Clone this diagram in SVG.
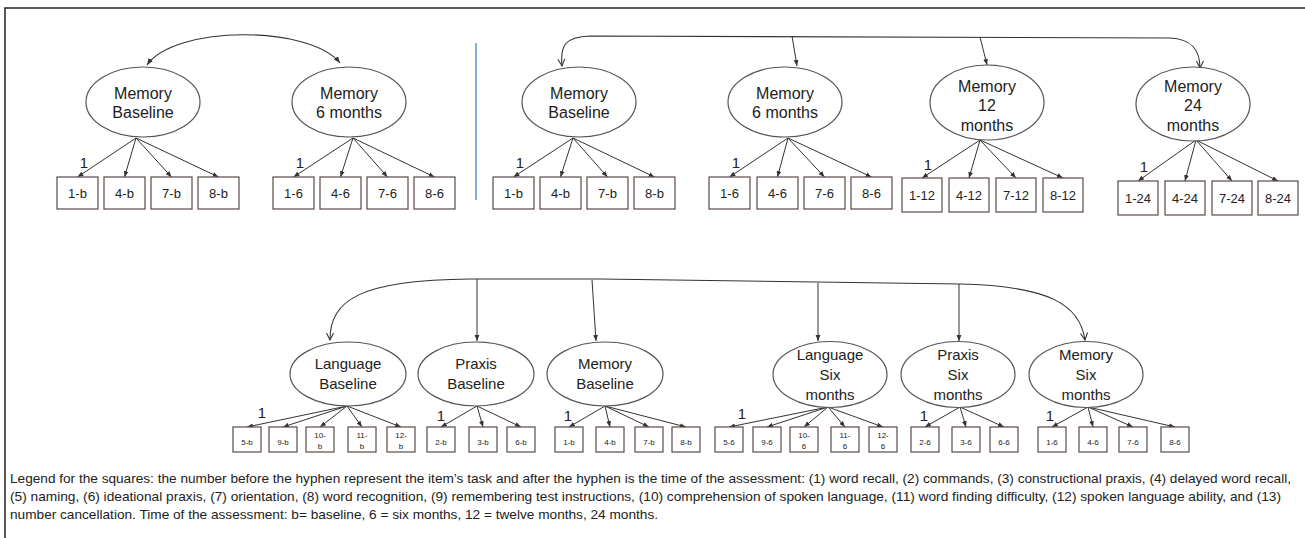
<svg xmlns="http://www.w3.org/2000/svg" width="1305" height="538" viewBox="0 0 1305 538">
  <style>
    text { font-family: "Liberation Sans", Arial, sans-serif; fill: #222; }
    .lat { fill: #fff; stroke: #555; stroke-width: 1.2; }
    .lt { font-size: 16px; text-anchor: middle; }
    .lb { font-size: 15px; text-anchor: middle; }
    .box { fill: #fff; stroke: #5a4a46; stroke-width: 1.2; }
    .bt { font-size: 13px; text-anchor: middle; }
    .bs { font-size: 8px; text-anchor: middle; }
    .one { font-size: 15px; text-anchor: middle; }
    .edge { fill: none; stroke: #333; stroke-width: 1; marker-end: url(#ah); }
    .curve { fill: none; stroke: #333; stroke-width: 1.1; }
    .leg { font-size: 13px; }
  </style>
  <defs>
    <marker id="ah" viewBox="0 0 10 10" refX="10" refY="5" markerWidth="6" markerHeight="6" orient="auto-start-reverse">
      <path d="M0,1 L10,5 L0,9 z" fill="#333"/>
    </marker>
    <marker id="av" viewBox="0 0 10 10" refX="9" refY="5" markerWidth="8" markerHeight="8" orient="auto-start-reverse">
      <path d="M1,1 L9,5 L1,9" fill="none" stroke="#333" stroke-width="1.2"/>
    </marker>
  </defs>

  <rect width="1305" height="538" fill="#fff"/>
  <!-- outer frame -->
  <rect x="5" y="8" width="1310" height="545" fill="none" stroke="#222" stroke-width="1.5"/>
  <!-- divider between the two upper models -->
  <line x1="476" y1="43" x2="476" y2="200" stroke="#5b8fd6" stroke-width="1.5"/>

  <!-- connectors -->
  <g id="connectors">
    <!-- upper-left model -->
    <path class="curve" d="M147,65 C175,25 310,25 340,63" marker-start="url(#ah)" marker-end="url(#ah)"/>
    <path class="edge" d="M136,138 L77.5,177"/>
    <path class="edge" d="M136,138 L124.5,177"/>
    <path class="edge" d="M136,138 L171.5,177"/>
    <path class="edge" d="M136,138 L218.5,177"/>
    <path class="edge" d="M353,138 L293.5,177"/>
    <path class="edge" d="M353,138 L340.5,177"/>
    <path class="edge" d="M353,138 L387.5,177"/>
    <path class="edge" d="M353,138 L434.5,177"/>

    <!-- upper-right model -->
    <path class="curve" d="M562,66 C560,45 565,37 590,36 L1170,38 C1192,39 1200,50 1200,68" marker-start="url(#av)" marker-end="url(#av)"/>
    <path class="edge" d="M792,36 L797,66"/>
    <path class="edge" d="M980,37 L987,65"/>
    <path class="edge" d="M573,138 L513.5,177"/>
    <path class="edge" d="M573,138 L560.5,177"/>
    <path class="edge" d="M573,138 L607.5,177"/>
    <path class="edge" d="M573,138 L654.5,177"/>
    <path class="edge" d="M788,138 L729.5,177"/>
    <path class="edge" d="M788,138 L777.5,177"/>
    <path class="edge" d="M788,138 L824.5,177"/>
    <path class="edge" d="M788,138 L871.5,177"/>
    <path class="edge" d="M980,140 L922,178"/>
    <path class="edge" d="M980,140 L969,178"/>
    <path class="edge" d="M980,140 L1016,178"/>
    <path class="edge" d="M980,140 L1063,178"/>
    <path class="edge" d="M1196,140 L1138,181"/>
    <path class="edge" d="M1196,140 L1185,181"/>
    <path class="edge" d="M1196,140 L1232,181"/>
    <path class="edge" d="M1196,140 L1278,181"/>

    <!-- lower model -->
    <path class="curve" d="M330,340 C330,300 360,280 470,279 L600,279 L960,284 C1050,286 1080,305 1085,340" marker-start="url(#av)" marker-end="url(#av)"/>
    <path class="edge" d="M477,279 L477,341"/>
    <path class="edge" d="M592,280 L596,341"/>
    <path class="edge" d="M818,283 L818,341"/>
    <path class="edge" d="M959,284 L959,341"/>
    <path class="edge" d="M347,406 L247,427"/>
    <path class="edge" d="M347,406 L283,427"/>
    <path class="edge" d="M347,406 L320,427"/>
    <path class="edge" d="M347,406 L362,427"/>
    <path class="edge" d="M347,406 L401,427"/>
    <path class="edge" d="M477,406 L441,427"/>
    <path class="edge" d="M477,406 L483,427"/>
    <path class="edge" d="M477,406 L521,427"/>
    <path class="edge" d="M605,406 L569,427"/>
    <path class="edge" d="M605,406 L610,427"/>
    <path class="edge" d="M605,406 L649,427"/>
    <path class="edge" d="M605,406 L686,427"/>
    <path class="edge" d="M828,407 L729,427"/>
    <path class="edge" d="M828,407 L767,427"/>
    <path class="edge" d="M828,407 L804,427"/>
    <path class="edge" d="M828,407 L845,427"/>
    <path class="edge" d="M828,407 L883,427"/>
    <path class="edge" d="M960,407 L925,427"/>
    <path class="edge" d="M960,407 L966,427"/>
    <path class="edge" d="M960,407 L1004,427"/>
    <path class="edge" d="M1088,407 L1052,427"/>
    <path class="edge" d="M1088,407 L1093,427"/>
    <path class="edge" d="M1088,407 L1133,427"/>
    <path class="edge" d="M1088,407 L1175,427"/>
  </g>

  <!-- fixed loadings -->
  <g id="loadings">
    <text class="one" x="84" y="168">1</text>
    <text class="one" x="300" y="168">1</text>
    <text class="one" x="520" y="168">1</text>
    <text class="one" x="736" y="168">1</text>
    <text class="one" x="928" y="170">1</text>
    <text class="one" x="1144" y="172">1</text>
    <text class="one" x="262" y="418">1</text>
    <text class="one" x="441" y="421">1</text>
    <text class="one" x="568" y="421">1</text>
    <text class="one" x="742" y="419">1</text>
    <text class="one" x="924" y="421">1</text>
    <text class="one" x="1050" y="421">1</text>
  </g>

  <!-- upper-left model -->
  <g id="tl-mem-b">
    <ellipse class="lat" cx="143" cy="102" rx="57" ry="35"/>
    <text class="lt" x="143" y="99">Memory</text>
    <text class="lt" x="143" y="118">Baseline</text>
  </g>
  <g id="tl-mem-6">
    <ellipse class="lat" cx="349" cy="102" rx="57" ry="35"/>
    <text class="lt" x="349" y="99">Memory</text>
    <text class="lt" x="349" y="118">6 months</text>
  </g>
  <g id="tl-items">
    <rect class="box" x="57" y="177" width="41" height="32"/><text class="bt" x="77.5" y="198">1-b</text>
    <rect class="box" x="104" y="177" width="41" height="32"/><text class="bt" x="124.5" y="198">4-b</text>
    <rect class="box" x="151" y="177" width="41" height="32"/><text class="bt" x="171.5" y="198">7-b</text>
    <rect class="box" x="198" y="177" width="41" height="32"/><text class="bt" x="218.5" y="198">8-b</text>
    <rect class="box" x="273" y="177" width="41" height="32"/><text class="bt" x="293.5" y="198">1-6</text>
    <rect class="box" x="320" y="177" width="41" height="32"/><text class="bt" x="340.5" y="198">4-6</text>
    <rect class="box" x="367" y="177" width="41" height="32"/><text class="bt" x="387.5" y="198">7-6</text>
    <rect class="box" x="414" y="177" width="41" height="32"/><text class="bt" x="434.5" y="198">8-6</text>
  </g>

  <!-- upper-right model -->
  <g id="tr-mem-b">
    <ellipse class="lat" cx="579" cy="102" rx="57" ry="35"/>
    <text class="lt" x="579" y="99">Memory</text>
    <text class="lt" x="579" y="118">Baseline</text>
  </g>
  <g id="tr-mem-6">
    <ellipse class="lat" cx="785" cy="102" rx="57" ry="35"/>
    <text class="lt" x="785" y="99">Memory</text>
    <text class="lt" x="785" y="118">6 months</text>
  </g>
  <g id="tr-mem-12">
    <ellipse class="lat" cx="987" cy="102.5" rx="57" ry="37.5"/>
    <text class="lt" x="987" y="92">Memory</text>
    <text class="lt" x="987" y="111">12</text>
    <text class="lt" x="987" y="131">months</text>
  </g>
  <g id="tr-mem-24">
    <ellipse class="lat" cx="1193" cy="104" rx="57" ry="37"/>
    <text class="lt" x="1193" y="92">Memory</text>
    <text class="lt" x="1193" y="111">24</text>
    <text class="lt" x="1193" y="131">months</text>
  </g>
  <g id="tr-items">
    <rect class="box" x="493" y="177" width="41" height="32"/><text class="bt" x="513.5" y="198">1-b</text>
    <rect class="box" x="540" y="177" width="41" height="32"/><text class="bt" x="560.5" y="198">4-b</text>
    <rect class="box" x="587" y="177" width="41" height="32"/><text class="bt" x="607.5" y="198">7-b</text>
    <rect class="box" x="634" y="177" width="41" height="32"/><text class="bt" x="654.5" y="198">8-b</text>
    <rect class="box" x="709" y="177" width="41" height="32"/><text class="bt" x="729.5" y="198">1-6</text>
    <rect class="box" x="757" y="177" width="41" height="32"/><text class="bt" x="777.5" y="198">4-6</text>
    <rect class="box" x="804" y="177" width="41" height="32"/><text class="bt" x="824.5" y="198">7-6</text>
    <rect class="box" x="851" y="177" width="41" height="32"/><text class="bt" x="871.5" y="198">8-6</text>
    <rect class="box" x="902" y="178" width="40" height="34"/><text class="bt" x="922" y="200">1-12</text>
    <rect class="box" x="949" y="178" width="40" height="34"/><text class="bt" x="969" y="200">4-12</text>
    <rect class="box" x="996" y="178" width="40" height="34"/><text class="bt" x="1016" y="200">7-12</text>
    <rect class="box" x="1043" y="178" width="40" height="34"/><text class="bt" x="1063" y="200">8-12</text>
    <rect class="box" x="1118" y="181" width="40" height="34"/><text class="bt" x="1138" y="203">1-24</text>
    <rect class="box" x="1165" y="181" width="40" height="34"/><text class="bt" x="1185" y="203">4-24</text>
    <rect class="box" x="1212" y="181" width="40" height="34"/><text class="bt" x="1232" y="203">7-24</text>
    <rect class="box" x="1258" y="181" width="40" height="34"/><text class="bt" x="1278" y="203">8-24</text>
  </g>

  <!-- lower model: latent factors -->
  <g id="lang-b">
    <ellipse class="lat" cx="348" cy="374" rx="58" ry="32"/>
    <text class="lb" x="348" y="369">Language</text>
    <text class="lb" x="348" y="389">Baseline</text>
  </g>
  <g id="prax-b">
    <ellipse class="lat" cx="476" cy="374" rx="58" ry="32"/>
    <text class="lb" x="476" y="369">Praxis</text>
    <text class="lb" x="476" y="389">Baseline</text>
  </g>
  <g id="mem-b">
    <ellipse class="lat" cx="605" cy="374" rx="58" ry="32"/>
    <text class="lb" x="605" y="369">Memory</text>
    <text class="lb" x="605" y="389">Baseline</text>
  </g>
  <g id="lang-6">
    <ellipse class="lat" cx="830" cy="374.5" rx="57" ry="33"/>
    <text class="lb" x="830" y="360">Language</text>
    <text class="lb" x="830" y="380">Six</text>
    <text class="lb" x="830" y="400">months</text>
  </g>
  <g id="prax-6">
    <ellipse class="lat" cx="958" cy="374.5" rx="57" ry="33"/>
    <text class="lb" x="958" y="360">Praxis</text>
    <text class="lb" x="958" y="380">Six</text>
    <text class="lb" x="958" y="400">months</text>
  </g>
  <g id="mem-6">
    <ellipse class="lat" cx="1086" cy="374.5" rx="57" ry="33"/>
    <text class="lb" x="1086" y="360">Memory</text>
    <text class="lb" x="1086" y="380">Six</text>
    <text class="lb" x="1086" y="400">months</text>
  </g>

  <!-- lower model: indicators -->
  <g id="low-items">
    <rect class="box" x="233" y="427" width="28" height="25"/><text class="bs" x="247" y="445">5-b</text>
    <rect class="box" x="269" y="427" width="28" height="25"/><text class="bs" x="283" y="445">9-b</text>
    <rect class="box" x="306" y="427" width="28" height="25"/><text class="bs" x="320" y="438">10-</text><text class="bs" x="320" y="449">b</text>
    <rect class="box" x="348" y="427" width="28" height="25"/><text class="bs" x="362" y="438">11-</text><text class="bs" x="362" y="449">b</text>
    <rect class="box" x="387" y="427" width="28" height="25"/><text class="bs" x="401" y="438">12-</text><text class="bs" x="401" y="449">b</text>
    <rect class="box" x="427" y="427" width="28" height="25"/><text class="bs" x="441" y="445">2-b</text>
    <rect class="box" x="469" y="427" width="28" height="25"/><text class="bs" x="483" y="445">3-b</text>
    <rect class="box" x="507" y="427" width="28" height="25"/><text class="bs" x="521" y="445">6-b</text>
    <rect class="box" x="555" y="427" width="28" height="25"/><text class="bs" x="569" y="445">1-b</text>
    <rect class="box" x="596" y="427" width="28" height="25"/><text class="bs" x="610" y="445">4-b</text>
    <rect class="box" x="635" y="427" width="28" height="25"/><text class="bs" x="649" y="445">7-b</text>
    <rect class="box" x="672" y="427" width="28" height="25"/><text class="bs" x="686" y="445">8-b</text>
    <rect class="box" x="715" y="427" width="28" height="25"/><text class="bs" x="729" y="445">5-6</text>
    <rect class="box" x="753" y="427" width="28" height="25"/><text class="bs" x="767" y="445">9-6</text>
    <rect class="box" x="790" y="427" width="28" height="25"/><text class="bs" x="804" y="438">10-</text><text class="bs" x="804" y="449">6</text>
    <rect class="box" x="831" y="427" width="28" height="25"/><text class="bs" x="845" y="438">11-</text><text class="bs" x="845" y="449">6</text>
    <rect class="box" x="869" y="427" width="28" height="25"/><text class="bs" x="883" y="438">12-</text><text class="bs" x="883" y="449">6</text>
    <rect class="box" x="911" y="427" width="28" height="25"/><text class="bs" x="925" y="445">2-6</text>
    <rect class="box" x="952" y="427" width="28" height="25"/><text class="bs" x="966" y="445">3-6</text>
    <rect class="box" x="990" y="427" width="28" height="25"/><text class="bs" x="1004" y="445">6-6</text>
    <rect class="box" x="1038" y="427" width="28" height="25"/><text class="bs" x="1052" y="445">1-6</text>
    <rect class="box" x="1079" y="427" width="28" height="25"/><text class="bs" x="1093" y="445">4-6</text>
    <rect class="box" x="1119" y="427" width="28" height="25"/><text class="bs" x="1133" y="445">7-6</text>
    <rect class="box" x="1161" y="427" width="28" height="25"/><text class="bs" x="1175" y="445">8-6</text>
  </g>

  <!-- legend -->
  <g id="legend">
    <text class="leg" x="10" y="483" textLength="1281" lengthAdjust="spacingAndGlyphs">Legend for the squares: the number before the hyphen represent the item’s task and after the hyphen is the time of the assessment: (1) word recall, (2) commands, (3) constructional praxis, (4) delayed word recall,</text>
    <text class="leg" x="10" y="501" textLength="1271" lengthAdjust="spacingAndGlyphs">(5) naming, (6) ideational praxis, (7) orientation, (8) word recognition, (9) remembering test instructions, (10) comprehension of spoken language, (11) word finding difficulty, (12) spoken language ability, and (13)</text>
    <text class="leg" x="10" y="519" textLength="648" lengthAdjust="spacingAndGlyphs">number cancellation. Time of the assessment: b= baseline, 6 = six months, 12 = twelve months, 24 months.</text>
  </g>
</svg>
